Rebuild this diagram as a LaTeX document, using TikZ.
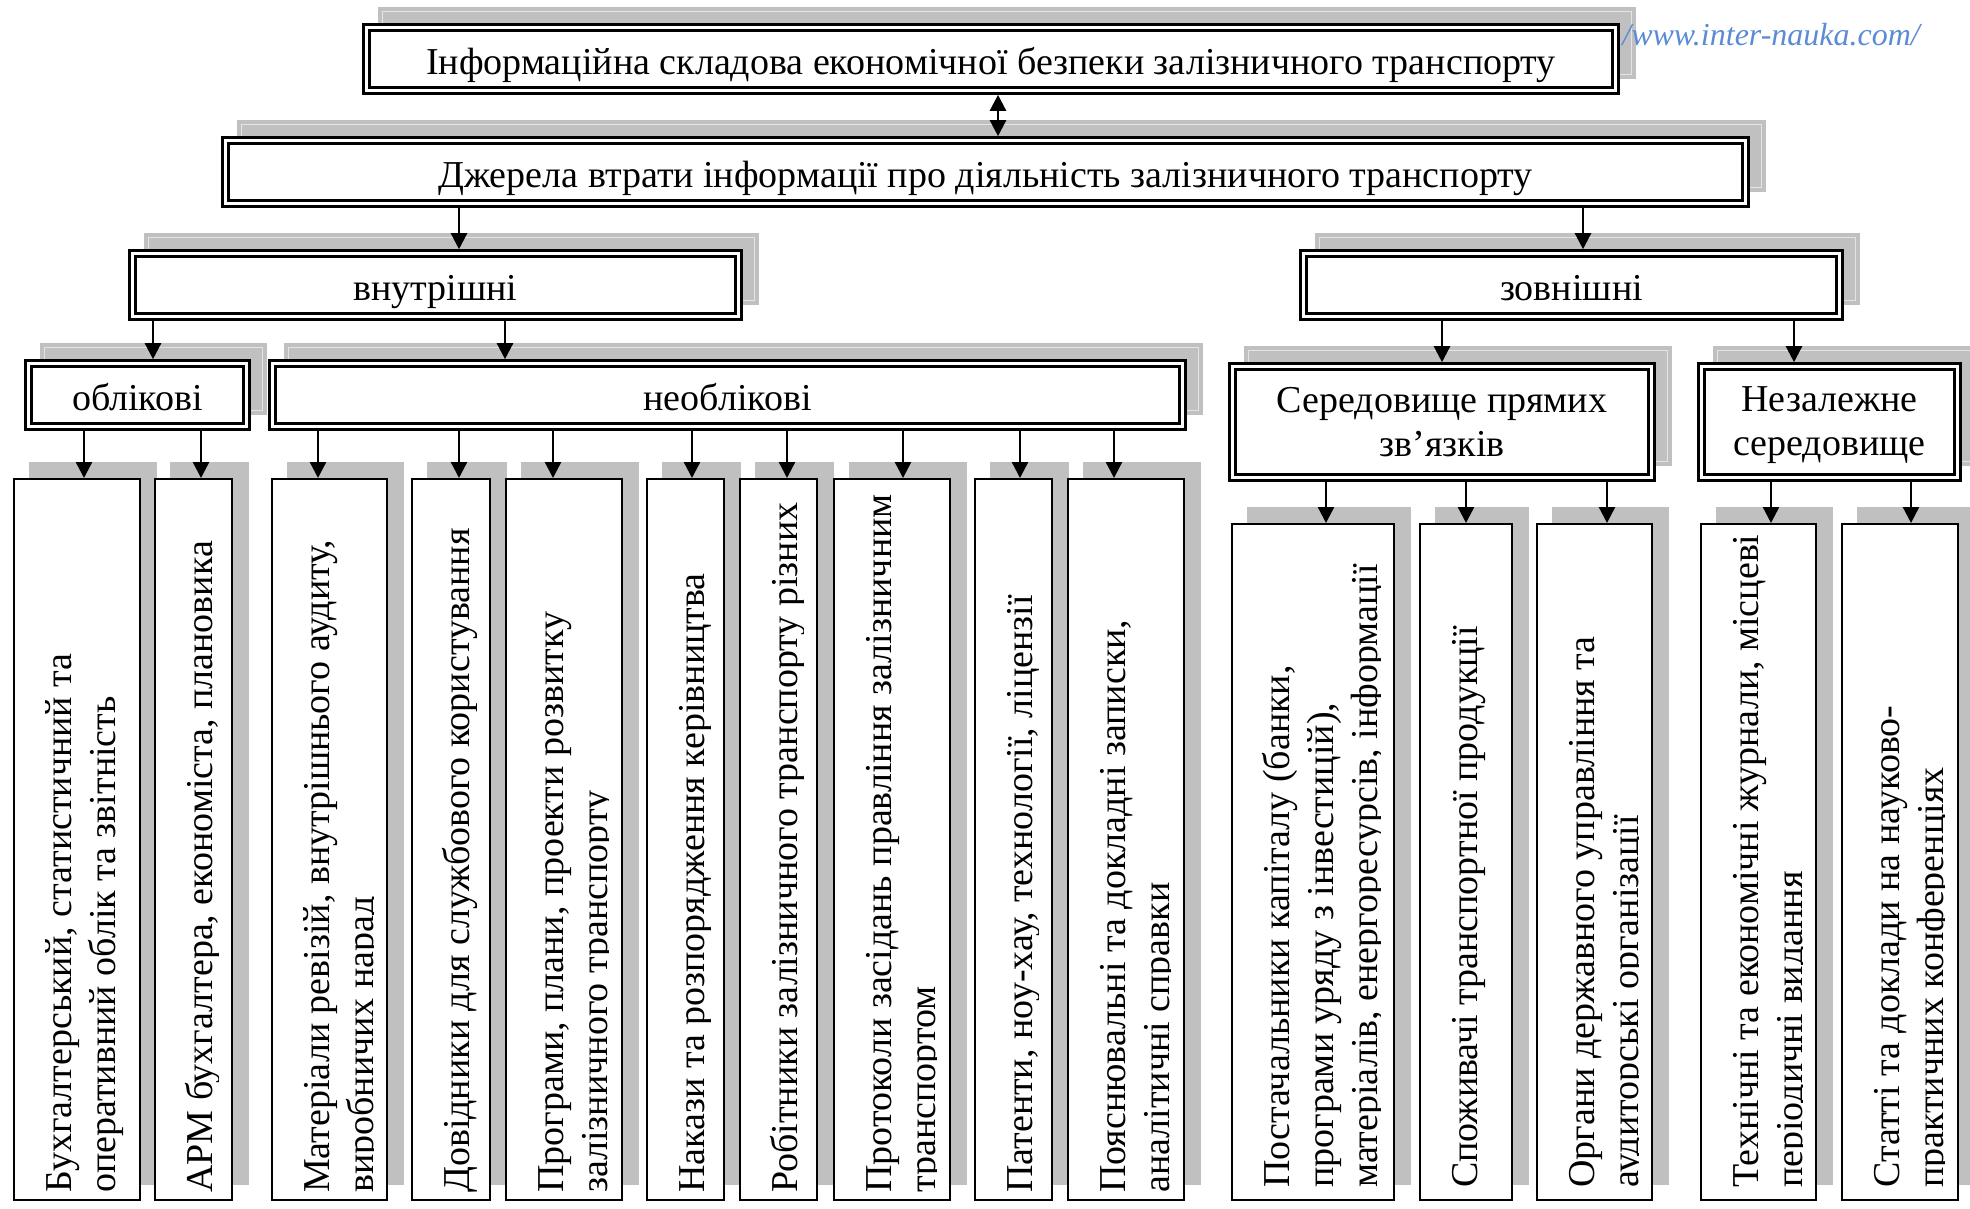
\documentclass[tikz,border=0pt]{standalone}
\usepackage{fontspec}
\setmainfont{Liberation Serif}
\usetikzlibrary{arrows.meta,backgrounds}

\definecolor{shadowgray}{HTML}{C0C0C0}
\definecolor{shadowline}{HTML}{E4E4E4}
\definecolor{urlblue}{HTML}{5B8BD4}

\newcommand{\boxfont}{\fontsize{38}{44}\selectfont}

\tikzset{
  dbox/.style={draw, fill=white, line width=2.8pt, double, double distance=3pt,
    outer sep=4.3pt, inner sep=0pt, font=\boxfont, align=center},
  hbox/.style={dbox, text height=31pt, text depth=0pt},
  leaf/.style={draw, fill=white, line width=2pt, inner sep=0pt},
  leaftext/.style={rotate=90, anchor=north west, inner sep=0pt, align=left, font=\boxfont},
  arr/.style={line width=2.4pt, -{Triangle[width=16pt,length=16pt]}},
  darr/.style={line width=2.4pt, {Triangle[width=16pt,length=16pt]}-{Triangle[width=16pt,length=16pt]}},
}

\begin{document}
\begin{tikzpicture}[x=1pt, y=-1pt]
  \useasboundingbox (0,0) rectangle (1970,1208);
  % upper boxes
  \node[hbox, minimum width=1249pt, minimum height=63pt] (title) at (991,59)
    {Інформаційна складова економічної безпеки залізничного транспорту};
  \node[hbox, minimum width=1520pt, minimum height=63pt] (src) at (985.5,172)
    {Джерела втрати інформації про діяльність залізничного транспорту};
  \node[hbox, minimum width=606pt, minimum height=63pt] (vnutr) at (435.5,285) {внутрішні};
  \node[hbox, minimum width=536pt, minimum height=63pt] (zovn) at (1571.5,285) {зовнішні};
  \node[hbox, minimum width=218pt, minimum height=63pt] (obl) at (137.5,395) {облікові};
  \node[hbox, minimum width=910pt, minimum height=63pt] (neobl) at (727.5,395) {необлікові};
  \node[dbox, minimum width=419pt, minimum height=111pt] (sered) at (1442,422)
    {\strut Середовище прямих\\зв’язків\rule[-5pt]{0pt}{5pt}};
  \node[dbox, minimum width=256pt, minimum height=111pt] (nezal) at (1829.5,422)
    {\strut Незалежне\\середовище\rule[-5pt]{0pt}{5pt}};
  % leaves, internal
  \node[leaf, minimum width=126pt, minimum height=721pt] (l1) at (77,839.5) {};
  \node[leaf, minimum width=77pt, minimum height=721pt] (l2) at (193.5,839.5) {};
  \node[leaf, minimum width=115pt, minimum height=721pt] (l3) at (329.5,839.5) {};
  \node[leaf, minimum width=78pt, minimum height=721pt] (l4) at (451,839.5) {};
  \node[leaf, minimum width=116pt, minimum height=721pt] (l5) at (564,839.5) {};
  \node[leaf, minimum width=77pt, minimum height=721pt] (l6) at (685.5,839.5) {};
  \node[leaf, minimum width=77pt, minimum height=721pt] (l7) at (778.5,839.5) {};
  \node[leaf, minimum width=116pt, minimum height=721pt] (l8) at (892,839.5) {};
  \node[leaf, minimum width=77pt, minimum height=721pt] (l9) at (1013.5,839.5) {};
  \node[leaf, minimum width=116pt, minimum height=721pt] (l10) at (1126,839.5) {};
  % leaves, external
  \node[leaf, minimum width=162pt, minimum height=676pt] (l11) at (1313,862) {};
  \node[leaf, minimum width=92pt, minimum height=676pt] (l12) at (1466,862) {};
  \node[leaf, minimum width=115pt, minimum height=676pt] (l13) at (1594.5,862) {};
  \node[leaf, minimum width=115pt, minimum height=676pt] (l14) at (1758.5,862) {};
  \node[leaf, minimum width=116pt, minimum height=676pt] (l15) at (1900,862) {};
  % leaf texts, cut at the right margin
  \begin{scope}
    \clip (l1.south west) rectangle ([xshift=-15pt]l1.north east);
    \node[leaftext] (t1) at ([xshift=27pt,yshift=8pt]l1.south west)
      {\strut Бухгалтерський, статистичний та\\оперативний облік та звітність};
  \end{scope}
  \begin{scope}
    \clip (l2.south west) rectangle ([xshift=-15pt]l2.north east);
    \node[leaftext] (t2) at ([xshift=27pt,yshift=8pt]l2.south west)
      {\strut АРМ бухгалтера, економіста, плановика};
  \end{scope}
  \begin{scope}
    \clip (l3.south west) rectangle ([xshift=-15pt]l3.north east);
    \node[leaftext] (t3) at ([xshift=27pt,yshift=8pt]l3.south west)
      {\strut Матеріали ревізій, внутрішнього аудиту,\\виробничих нарад};
  \end{scope}
  \begin{scope}
    \clip (l4.south west) rectangle ([xshift=-15pt]l4.north east);
    \node[leaftext] (t4) at ([xshift=27pt,yshift=8pt]l4.south west)
      {\strut Довідники для службового користування};
  \end{scope}
  \begin{scope}
    \clip (l5.south west) rectangle ([xshift=-15pt]l5.north east);
    \node[leaftext] (t5) at ([xshift=27pt,yshift=8pt]l5.south west)
      {\strut Програми, плани, проекти розвитку\\залізничного транспорту};
  \end{scope}
  \begin{scope}
    \clip (l6.south west) rectangle ([xshift=-15pt]l6.north east);
    \node[leaftext] (t6) at ([xshift=27pt,yshift=8pt]l6.south west)
      {\strut Накази та розпорядження керівництва};
  \end{scope}
  \begin{scope}
    \clip (l7.south west) rectangle ([xshift=-15pt]l7.north east);
    \node[leaftext] (t7) at ([xshift=27pt,yshift=8pt]l7.south west)
      {\strut Робітники залізничного транспорту різних};
  \end{scope}
  \begin{scope}
    \clip (l8.south west) rectangle ([xshift=-15pt]l8.north east);
    \node[leaftext] (t8) at ([xshift=27pt,yshift=8pt]l8.south west)
      {\strut Протоколи засідань правління залізничним\\транспортом};
  \end{scope}
  \begin{scope}
    \clip (l9.south west) rectangle ([xshift=-15pt]l9.north east);
    \node[leaftext] (t9) at ([xshift=27pt,yshift=8pt]l9.south west)
      {\strut Патенти, ноу-хау, технології, ліцензії};
  \end{scope}
  \begin{scope}
    \clip (l10.south west) rectangle ([xshift=-15pt]l10.north east);
    \node[leaftext] (t10) at ([xshift=27pt,yshift=8pt]l10.south west)
      {\strut Пояснювальні та докладні записки,\\аналітичні справки};
  \end{scope}
  \begin{scope}
    \clip (l11.south west) rectangle ([xshift=-15pt]l11.north east);
    \node[leaftext] (t11) at ([xshift=27pt,yshift=13pt]l11.south west)
      {\strut Постачальники капіталу (банки,\\програми уряду з інвестицій),\\матеріалів, енергоресурсів, інформації};
  \end{scope}
  \begin{scope}
    \clip (l12.south west) rectangle ([xshift=-15pt]l12.north east);
    \node[leaftext] (t12) at ([xshift=27pt,yshift=13pt]l12.south west)
      {\strut Споживачі транспортної продукції};
  \end{scope}
  \begin{scope}
    \clip (l13.south west) rectangle ([xshift=-15pt]l13.north east);
    \node[leaftext] (t13) at ([xshift=27pt,yshift=13pt]l13.south west)
      {\strut Органи державного управління та\\аудиторські організації};
  \end{scope}
  \begin{scope}
    \clip (l14.south west) rectangle ([xshift=-15pt]l14.north east);
    \node[leaftext] (t14) at ([xshift=27pt,yshift=13pt]l14.south west)
      {\strut Технічні та економічні журнали, місцеві\\періодичні видання};
  \end{scope}
  \begin{scope}
    \clip (l15.south west) rectangle ([xshift=-15pt]l15.north east);
    \node[leaftext] (t15) at ([xshift=27pt,yshift=13pt]l15.south west)
      {\strut Статті та доклади на науково-\\практичних конференціях};
  \end{scope}
  % site address
  \node[font=\fontsize{32}{36}\selectfont\itshape, text=urlblue, anchor=base east, inner sep=0pt]
    (url) at (1920,45) {/www.inter-nauka.com/};
  % shadows
  \begin{pgfonlayer}{background}
    \fill[shadowgray] ([shift={(16pt,16pt)}]title.north west) rectangle ([shift={(16pt,16pt)}]title.south east);
    \fill[shadowgray] ([shift={(16pt,16pt)}]src.north west) rectangle ([shift={(16pt,16pt)}]src.south east);
    \fill[shadowgray] ([shift={(16pt,16pt)}]vnutr.north west) rectangle ([shift={(16pt,16pt)}]vnutr.south east);
    \fill[shadowgray] ([shift={(16pt,16pt)}]zovn.north west) rectangle ([shift={(16pt,16pt)}]zovn.south east);
    \fill[shadowgray] ([shift={(16pt,16pt)}]obl.north west) rectangle ([shift={(16pt,16pt)}]obl.south east);
    \fill[shadowgray] ([shift={(16pt,16pt)}]neobl.north west) rectangle ([shift={(16pt,16pt)}]neobl.south east);
    \fill[shadowgray] ([shift={(16pt,16pt)}]sered.north west) rectangle ([shift={(16pt,16pt)}]sered.south east);
    \fill[shadowgray] ([shift={(16pt,16pt)}]nezal.north west) rectangle ([shift={(16pt,16pt)}]nezal.south east);
    \draw[shadowline, line width=1pt] ([shift={(20pt,12pt)}]title.north west) rectangle ([shift={(12pt,20pt)}]title.south east);
    \draw[shadowline, line width=1pt] ([shift={(20pt,12pt)}]src.north west) rectangle ([shift={(12pt,20pt)}]src.south east);
    \draw[shadowline, line width=1pt] ([shift={(20pt,12pt)}]vnutr.north west) rectangle ([shift={(12pt,20pt)}]vnutr.south east);
    \draw[shadowline, line width=1pt] ([shift={(20pt,12pt)}]zovn.north west) rectangle ([shift={(12pt,20pt)}]zovn.south east);
    \draw[shadowline, line width=1pt] ([shift={(20pt,12pt)}]obl.north west) rectangle ([shift={(12pt,20pt)}]obl.south east);
    \draw[shadowline, line width=1pt] ([shift={(20pt,12pt)}]neobl.north west) rectangle ([shift={(12pt,20pt)}]neobl.south east);
    \draw[shadowline, line width=1pt] ([shift={(20pt,12pt)}]sered.north west) rectangle ([shift={(12pt,20pt)}]sered.south east);
    \draw[shadowline, line width=1pt] ([shift={(20pt,12pt)}]nezal.north west) rectangle ([shift={(12pt,20pt)}]nezal.south east);
    \fill[shadowgray] ([shift={(16pt,16pt)}]l1.north west) rectangle ([shift={(16pt,16pt)}]l1.south east);
    \fill[shadowgray] ([shift={(16pt,16pt)}]l2.north west) rectangle ([shift={(16pt,16pt)}]l2.south east);
    \fill[shadowgray] ([shift={(16pt,16pt)}]l3.north west) rectangle ([shift={(16pt,16pt)}]l3.south east);
    \fill[shadowgray] ([shift={(16pt,16pt)}]l4.north west) rectangle ([shift={(16pt,16pt)}]l4.south east);
    \fill[shadowgray] ([shift={(16pt,16pt)}]l5.north west) rectangle ([shift={(16pt,16pt)}]l5.south east);
    \fill[shadowgray] ([shift={(16pt,16pt)}]l6.north west) rectangle ([shift={(16pt,16pt)}]l6.south east);
    \fill[shadowgray] ([shift={(16pt,16pt)}]l7.north west) rectangle ([shift={(16pt,16pt)}]l7.south east);
    \fill[shadowgray] ([shift={(16pt,16pt)}]l8.north west) rectangle ([shift={(16pt,16pt)}]l8.south east);
    \fill[shadowgray] ([shift={(16pt,16pt)}]l9.north west) rectangle ([shift={(16pt,16pt)}]l9.south east);
    \fill[shadowgray] ([shift={(16pt,16pt)}]l10.north west) rectangle ([shift={(16pt,16pt)}]l10.south east);
    \fill[shadowgray] ([shift={(16pt,16pt)}]l11.north west) rectangle ([shift={(16pt,16pt)}]l11.south east);
    \fill[shadowgray] ([shift={(16pt,16pt)}]l12.north west) rectangle ([shift={(16pt,16pt)}]l12.south east);
    \fill[shadowgray] ([shift={(16pt,16pt)}]l13.north west) rectangle ([shift={(16pt,16pt)}]l13.south east);
    \fill[shadowgray] ([shift={(16pt,16pt)}]l14.north west) rectangle ([shift={(16pt,16pt)}]l14.south east);
    \fill[shadowgray] ([shift={(16pt,16pt)}]l15.north west) rectangle ([shift={(16pt,16pt)}]l15.south east);
  \end{pgfonlayer}
  % arrows between levels
  \draw[darr] ([xshift=7pt]title.south) -- ([xshift=7pt]title.south |- src.north);
  \draw[arr] ([xshift=23.5pt]vnutr.north |- src.south) -- ([xshift=23.5pt]vnutr.north);
  \draw[arr] ([xshift=11.5pt]zovn.north |- src.south) -- ([xshift=11.5pt]zovn.north);
  \draw[arr] ([xshift=15.5pt]obl.north |- vnutr.south) -- ([xshift=15.5pt]obl.north);
  \draw[arr] ([xshift=-222.5pt]neobl.north |- vnutr.south) -- ([xshift=-222.5pt]neobl.north);
  \draw[arr] (sered.north |- zovn.south) -- (sered.north);
  \draw[arr] ([xshift=-35.5pt]nezal.north |- zovn.south) -- ([xshift=-35.5pt]nezal.north);
  % arrows to leaves
  \draw[arr] ([xshift=7pt]l1.north |- obl.south) -- ([xshift=7pt]l1.north);
  \draw[arr] ([xshift=7.5pt]l2.north |- obl.south) -- ([xshift=7.5pt]l2.north);
  \draw[arr] ([xshift=-11.5pt]l3.north |- neobl.south) -- ([xshift=-11.5pt]l3.north);
  \draw[arr] ([xshift=8pt]l4.north |- neobl.south) -- ([xshift=8pt]l4.north);
  \draw[arr] ([xshift=-11pt]l5.north |- neobl.south) -- ([xshift=-11pt]l5.north);
  \draw[arr] ([xshift=6.5pt]l6.north |- neobl.south) -- ([xshift=6.5pt]l6.north);
  \draw[arr] ([xshift=8.5pt]l7.north |- neobl.south) -- ([xshift=8.5pt]l7.north);
  \draw[arr] ([xshift=11pt]l8.north |- neobl.south) -- ([xshift=11pt]l8.north);
  \draw[arr] ([xshift=6.5pt]l9.north |- neobl.south) -- ([xshift=6.5pt]l9.north);
  \draw[arr] ([xshift=-12pt]l10.north |- neobl.south) -- ([xshift=-12pt]l10.north);
  \draw[arr] ([xshift=13pt]l11.north |- sered.south) -- ([xshift=13pt]l11.north);
  \draw[arr] (l12.north |- sered.south) -- (l12.north);
  \draw[arr] ([xshift=12.5pt]l13.north |- sered.south) -- ([xshift=12.5pt]l13.north);
  \draw[arr] ([xshift=12.5pt]l14.north |- nezal.south) -- ([xshift=12.5pt]l14.north);
  \draw[arr] ([xshift=11pt]l15.north |- nezal.south) -- ([xshift=11pt]l15.north);
\end{tikzpicture}
\end{document}
